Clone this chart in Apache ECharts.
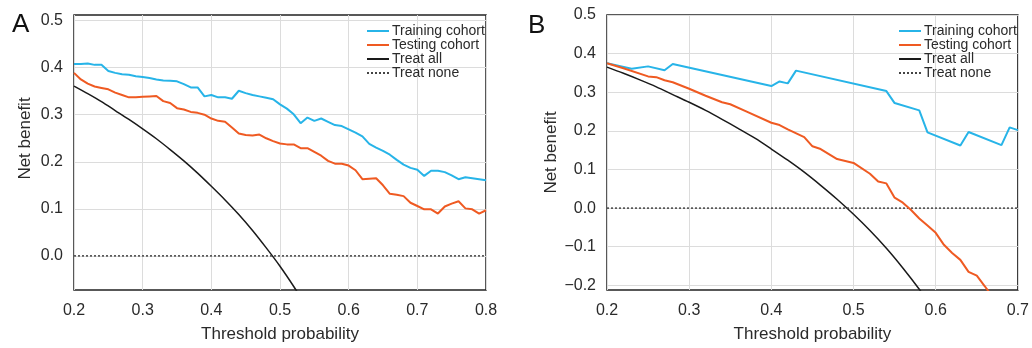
<!DOCTYPE html>
<html>
<head>
<meta charset="utf-8">
<script src="https://cdn.jsdelivr.net/npm/echarts@6/dist/echarts.min.js"></script>
<style>
  html, body { margin: 0; padding: 0; background: #fff; }
  #chart { width: 1032px; height: 348px; }
</style>
</head>
<body>
<div id="chart"></div>
<script>
// panel A: thresholds 0.20 .. 0.80
const thresholdsA = [
  0.20, 0.21, 0.22, 0.23, 0.24, 0.25, 0.26, 0.27, 0.28, 0.29,
  0.30, 0.31, 0.32, 0.33, 0.34, 0.35, 0.36, 0.37, 0.38, 0.39,
  0.40, 0.41, 0.42, 0.43, 0.44, 0.45, 0.46, 0.47, 0.48, 0.49,
  0.50, 0.51, 0.52, 0.53, 0.54, 0.55, 0.56, 0.57, 0.58, 0.59,
  0.60, 0.61, 0.62, 0.63, 0.64, 0.65, 0.66, 0.67, 0.68, 0.69,
  0.70, 0.71, 0.72, 0.73, 0.74, 0.75, 0.76, 0.77, 0.78, 0.79, 0.80
];
const trainingA = [
  0.408, 0.408, 0.409, 0.406, 0.406, 0.393, 0.389, 0.386, 0.385, 0.382,
  0.380, 0.378, 0.375, 0.373, 0.372, 0.371, 0.365, 0.358, 0.358, 0.339,
  0.342, 0.337, 0.337, 0.334, 0.351, 0.346, 0.342, 0.339, 0.336, 0.333,
  0.322, 0.313, 0.301, 0.282, 0.294, 0.287, 0.292, 0.285, 0.278, 0.276,
  0.269, 0.262, 0.254, 0.238, 0.230, 0.223, 0.215, 0.204, 0.194, 0.187,
  0.183, 0.170, 0.181, 0.181, 0.178, 0.171, 0.163, 0.167, 0.165, 0.163, 0.161
];
const testingA = [
  0.389, 0.375, 0.366, 0.360, 0.357, 0.354, 0.347, 0.342, 0.337, 0.337,
  0.338, 0.339, 0.340, 0.329, 0.325, 0.314, 0.311, 0.306, 0.304, 0.300,
  0.292, 0.287, 0.285, 0.273, 0.260, 0.257, 0.256, 0.258, 0.250, 0.244,
  0.239, 0.237, 0.237, 0.229, 0.229, 0.221, 0.213, 0.202, 0.196, 0.196,
  0.192, 0.182, 0.163, 0.164, 0.165, 0.150, 0.132, 0.130, 0.127, 0.113,
  0.106, 0.099, 0.099, 0.090, 0.105, 0.111, 0.116, 0.101, 0.099, 0.090, 0.097
];
const treatAllXA = [0.20, 0.22, 0.24, 0.26, 0.28, 0.30, 0.32, 0.34, 0.36, 0.38,
  0.40, 0.42, 0.44, 0.46, 0.48, 0.50, 0.52, 0.54];
const treatAllA = [0.361, 0.345, 0.328, 0.309, 0.290, 0.270, 0.249, 0.226, 0.202, 0.176,
  0.148, 0.119, 0.088, 0.054, 0.017, -0.022, -0.065, -0.111];
const yTicksA = [0, 0.1, 0.2, 0.3, 0.4, 0.5];

// panel B
const trainingXB = [0.20, 0.23, 0.25, 0.27, 0.28, 0.40, 0.41, 0.42, 0.43,
  0.54, 0.55, 0.58, 0.59, 0.63, 0.64, 0.68, 0.69, 0.70];
const trainingB = [0.375, 0.361, 0.367, 0.357, 0.373, 0.316, 0.328, 0.323, 0.356,
  0.303, 0.272, 0.253, 0.196, 0.162, 0.197, 0.163, 0.209, 0.202];
const testingXB = [0.20, 0.22, 0.25, 0.26, 0.27, 0.28, 0.30, 0.32, 0.34, 0.35,
  0.37, 0.40, 0.41, 0.42, 0.44, 0.45, 0.46, 0.48, 0.50, 0.52,
  0.53, 0.54, 0.55, 0.56, 0.57, 0.58, 0.59, 0.60, 0.61, 0.62,
  0.63, 0.64, 0.65, 0.66, 0.67];
const testingB = [0.375, 0.362, 0.341, 0.339, 0.331, 0.326, 0.309, 0.291, 0.274, 0.269,
  0.250, 0.221, 0.215, 0.204, 0.184, 0.160, 0.153, 0.127, 0.117, 0.089,
  0.069, 0.064, 0.027, 0.014, -0.005, -0.027, -0.045, -0.064, -0.095, -0.116,
  -0.134, -0.165, -0.175, -0.203, -0.232];
const treatAllXB = [0.20, 0.22, 0.24, 0.26, 0.28, 0.30, 0.32, 0.34, 0.36, 0.38,
  0.40, 0.42, 0.44, 0.46, 0.48, 0.50, 0.52, 0.54, 0.56, 0.58, 0.60];
const treatAllB = [0.365, 0.349, 0.332, 0.314, 0.294, 0.274, 0.253, 0.230, 0.206, 0.181,
  0.153, 0.124, 0.093, 0.059, 0.023, -0.016, -0.058, -0.104, -0.155, -0.210, -0.270];
const yTicksB = [-0.2, -0.1, 0, 0.1, 0.2, 0.3, 0.4, 0.5];

const seriesNames = ['Training cohort', 'Testing cohort', 'Treat all', 'Treat none'];

const BLUE = '#27b4e8';
const ORANGE = '#ef5a22';
const BLACK = '#1a1a1a';
const FONT = '"Liberation Sans", Arial, sans-serif';
const TEXT = '#2a2a2a';
// dotted legend icon for "Treat none"
const DOTS = 'path://M0,0h2v2h-2z M4,0h2v2h-2z M8,0h2v2h-2z M12,0h2v2h-2z M16,0h2v2h-2z M20,0h2v2h-2z';

function zip(xs, ys) {
  return xs.map((x, i) => [x, ys[i]]);
}

function fmt(v) {
  if (Math.abs(v) < 1e-9) return '0.0';
  return v < 0 ? '\u2212' + (-v).toFixed(1) : v.toFixed(1);
}

function xAxis(gridIndex, max) {
  return {
    gridIndex,
    type: 'value',
    min: 0.2,
    max,
    interval: 0.1,
    axisLine: { show: false },
    axisTick: { show: false },
    axisLabel: { margin: 13, fontSize: 16, color: TEXT, fontFamily: FONT, formatter: (v) => v.toFixed(1) },
    splitLine: { lineStyle: { color: '#dcdcdc', width: 1 } },
    name: 'Threshold probability',
    nameLocation: 'middle',
    nameGap: 36,
    nameTextStyle: { fontSize: 17, color: TEXT, fontFamily: FONT },
  };
}

function yAxis(gridIndex, min, max, ticks, nameGap, namePad) {
  return {
    gridIndex,
    type: 'value',
    min,
    max,
    axisLine: { show: false },
    axisTick: { show: false, customValues: ticks },
    axisLabel: {
      customValues: ticks,
      margin: 11, fontSize: 16, color: TEXT, fontFamily: FONT,
      formatter: fmt,
    },
    splitLine: { lineStyle: { color: '#dcdcdc', width: 1 } },
    name: 'Net benefit',
    nameLocation: 'middle',
    nameGap,
    nameTextStyle: { fontSize: 17, color: TEXT, fontFamily: FONT, padding: [0, 0, 0, namePad] },
  };
}

function lines(idx, training, testing, treatAll, xMax) {
  return [
    { name: seriesNames[0], type: 'line', xAxisIndex: idx, yAxisIndex: idx, data: training,
      showSymbol: false, symbol: 'none', color: BLUE, lineStyle: { width: 2, color: BLUE }, z: 4 },
    { name: seriesNames[1], type: 'line', xAxisIndex: idx, yAxisIndex: idx, data: testing,
      showSymbol: false, symbol: 'none', color: ORANGE, lineStyle: { width: 2, color: ORANGE }, z: 4 },
    { name: seriesNames[2], type: 'line', xAxisIndex: idx, yAxisIndex: idx, data: treatAll,
      showSymbol: false, symbol: 'none', smooth: 0.3, color: BLACK, lineStyle: { width: 1.5, color: BLACK }, z: 3 },
    { name: seriesNames[3], type: 'line', xAxisIndex: idx, yAxisIndex: idx, data: [[0.2, 0], [xMax, 0]],
      showSymbol: false, symbol: 'none', color: '#444', lineStyle: { width: 1.5, color: '#444', type: [2, 2] }, z: 3 },
  ];
}

function legend(left) {
  return {
    data: [
      { name: seriesNames[0], icon: 'rect' },
      { name: seriesNames[1], icon: 'rect' },
      { name: seriesNames[2], icon: 'rect' },
      { name: seriesNames[3], icon: DOTS },
    ],
    orient: 'vertical',
    left,
    top: 24,
    itemWidth: 22,
    itemHeight: 2,
    itemGap: 0,
    textStyle: { fontSize: 14, lineHeight: 14, color: TEXT, fontFamily: FONT, padding: [0, 0, 0, -2] },
    padding: 0,
  };
}

const chart = echarts.init(document.getElementById('chart'), null, { renderer: 'canvas' });

chart.setOption({
  animation: false,
  backgroundColor: '#fff',
  title: [
    { text: 'A', left: 7, top: 7, textStyle: { fontSize: 26, fontWeight: 'normal', color: '#111', fontFamily: FONT } },
    { text: 'B', left: 523, top: 8, textStyle: { fontSize: 26, fontWeight: 'normal', color: '#111', fontFamily: FONT } },
  ],
  legend: [legend(367), legend(899)],
  grid: [
    { left: 74, top: 15, width: 412, height: 277, show: true, borderColor: '#222', borderWidth: 1.5, backgroundColor: 'transparent' },
    { left: 607, top: 15, width: 412, height: 277, show: true, borderColor: '#222', borderWidth: 1.5, backgroundColor: 'transparent' },
  ],
  xAxis: [xAxis(0, 0.8), xAxis(1, 0.7)],
  yAxis: [yAxis(0, -0.0725, 0.512, yTicksA, 40, 28), yAxis(1, -0.212, 0.5, yTicksB, 47, 0)],
  series: [
    ...lines(0, zip(thresholdsA, trainingA), zip(thresholdsA, testingA), zip(treatAllXA, treatAllA), 0.8),
    ...lines(1, zip(trainingXB, trainingB), zip(testingXB, testingB), zip(treatAllXB, treatAllB), 0.7),
  ],
});
</script>
</body>
</html>
